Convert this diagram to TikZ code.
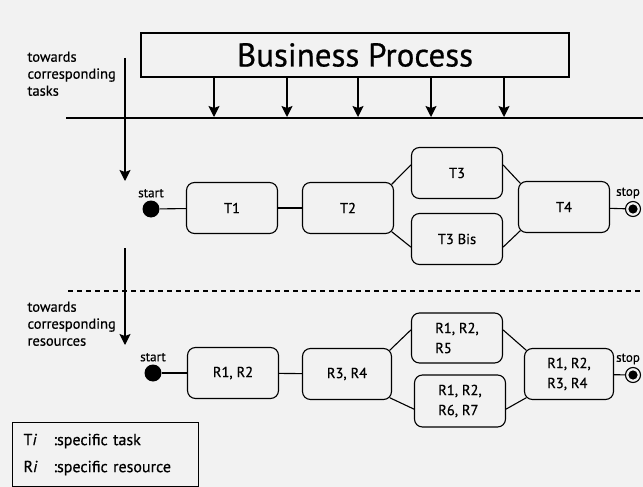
\documentclass[tikz,border=0pt]{standalone}
\usepackage{fontspec}
\setmainfont{PT Sans}[FakeBold=0.6]
\usetikzlibrary{arrows.meta}

\begin{document}
\begin{tikzpicture} [x=1pt, y=-1pt, line width=1.1pt,
    activity/.style = {draw, rounded corners=8pt, minimum width=91pt, minimum height=51pt,
                       inner sep=2pt, align=left, font=\fontsize{14.5}{20}\selectfont},
    startdot/.style = {circle, fill, minimum size=17pt, inner sep=0pt,
                       label={[font=\fontsize{13}{14}\selectfont, inner sep=2pt]above:start}},
    stopdot/.style = {circle, draw, minimum size=15pt, inner sep=0pt,
                      path picture={\fill (path picture bounding box.center) circle (4.6pt);},
                      label={[font=\fontsize{13}{14}\selectfont, inner sep=2pt, xshift=-5pt]above:stop}},
    side/.style = {anchor=north west, align=left, inner sep=0pt, font=\fontsize{14.5}{17}\selectfont},
    down/.style = {-{Stealth[length=11pt, width=11pt, inset=2pt]}, line width=1.2pt}]
    \fill [black!5] (0,0) rectangle (643,487);
    \useasboundingbox (0,0) rectangle (643,487);

    % process and its arrows down onto the task level
    \node (bp) [draw, minimum width=428pt, minimum height=44pt,
                font=\fontsize{33}{38}\selectfont] at (355,55) {Business Process};
    \coordinate (hl) at (66,118);
    \coordinate (hr) at (643,118);
    \draw (hl) -- (hr);
    \foreach \x [count=\i] in {214,287,358,431,504} {
        \coordinate (p\i) at (\x,117);
        \draw [down] (bp.south -| p\i) -- (p\i);
    }

    \node (lbltask) [side] at (27,51) {towards\\corresponding\\tasks};
    \coordinate (v1) at (125,58);
    \coordinate (v1e) at (125,181);
    \draw [down] (v1) -- (v1e);

    % tasks
    \node (s1) [startdot] at (151,209) {};
    \node (t1) [activity] at (232,208) {T1};
    \node (t2) [activity] at (348,208) {T2};
    \node (t3) [activity] at (457,173) {T3};
    \node (t3b) [activity] at (457,239) {T3 Bis};
    \node (t4) [activity] at (564,207) {T4};
    \node (e1) [stopdot] at (633,209) {};
    \path [draw]
    (s1) edge (t1)
    (t1) edge (t2)
    ([shift={(-2.3,2.3)}]t2.north east) edge (t3.170)
    ([shift={(-2.3,-2.3)}]t2.south east) edge (t3b.190)
    (t3.10) edge ([shift={(2.3,2.3)}]t4.north west)
    (t3b.350) edge ([shift={(2.3,-2.3)}]t4.south west)
    (t4) edge (e1);

    \draw [dashed, dash pattern=on 5pt off 4pt] (68,291) -- (643,291);

    \node (lblres) [side] at (27,301) {towards\\corresponding\\resources};
    \coordinate (v2) at (125,248);
    \coordinate (v2e) at (125,345);
    \draw [down] (v2) -- (v2e);

    % resources
    \node (s2) [startdot] at (153,373) {};
    \node (r1) [activity] at (233,373) {R1, R2};
    \node (r2) [activity, minimum width=89pt] at (347,374) {R3, R4};
    \node (r3) [activity, minimum height=50pt] at (457,338) {R1, R2,\\R5};
    \node (r3b) [activity, minimum height=52pt] at (460,401) {R1, R2,\\R6, R7};
    \node (r4) [activity, minimum width=89pt] at (569,374) {R1, R2,\\R3, R4};
    \node (e2) [stopdot] at (633,375) {};
    \path [draw]
    (s2) edge (r1)
    (r1) edge (r2)
    ([shift={(-2.3,2.3)}]r2.north east) edge (r3.170)
    ([shift={(-2.3,-2.3)}]r2.south east) edge (r3b.190)
    (r3.10) edge ([shift={(2.3,2.3)}]r4.north west)
    (r3b.350) edge ([shift={(2.3,-2.3)}]r4.south west)
    (r4) edge (e2);

    % key
    \node (key) [draw, anchor=north west, minimum width=186pt, minimum height=64pt,
                 text width=164pt, inner xsep=11pt, align=left,
                 font=\fontsize{16}{27}\selectfont] at (12,422)
        {\makebox[30pt][l]{T\textit{i}}:specific task\\\makebox[30pt][l]{R\textit{i}}:specific resource};
\end{tikzpicture}
\end{document}
